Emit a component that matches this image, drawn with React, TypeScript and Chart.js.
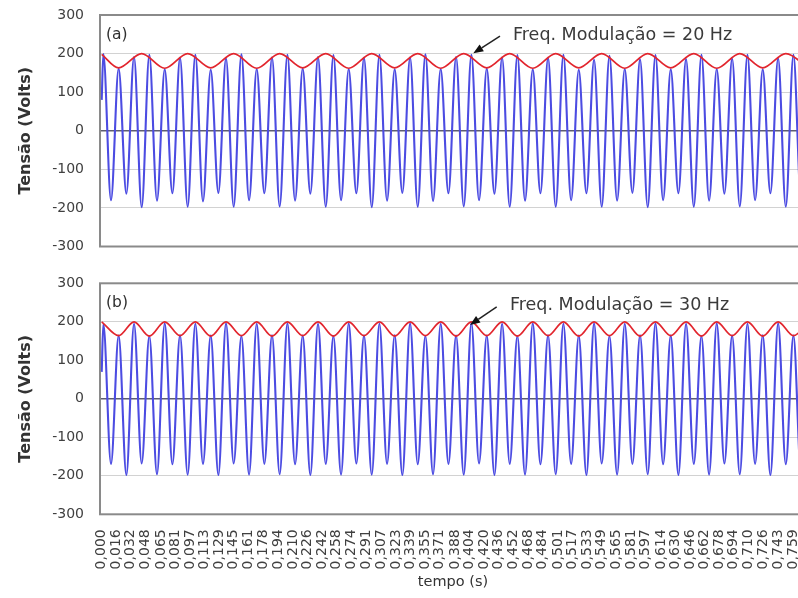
import { useEffect, useRef } from "react";
import { Chart, registerables } from "chart.js";

Chart.register(...registerables);

// ---------- DATA ----------
const rotulosTempo = [
  "0,000", "0,016", "0,032", "0,048", "0,065", "0,081", "0,097", "0,113", "0,129", "0,145",
  "0,161", "0,178", "0,194", "0,210", "0,226", "0,242", "0,258", "0,274", "0,291", "0,307",
  "0,323", "0,339", "0,355", "0,371", "0,388", "0,404", "0,420", "0,436", "0,452", "0,468",
  "0,484", "0,501", "0,517", "0,533", "0,549", "0,565", "0,581", "0,597", "0,614", "0,630",
  "0,646", "0,662", "0,678", "0,694", "0,710", "0,726", "0,743", "0,759",
];

const valoresY = [-300, -200, -100, 0, 100, 200, 300];

// instants of each crest / trough of the blue waveform (s)
const tempoExtremos = [
  0.0018, 0.0102, 0.0186, 0.0271, 0.0355, 0.0439, 0.0523, 0.0607, 0.0692, 0.0776,
  0.0860, 0.0944, 0.1028, 0.1112, 0.1197, 0.1281, 0.1365, 0.1449, 0.1534, 0.1618,
  0.1702, 0.1786, 0.1870, 0.1954, 0.2039, 0.2123, 0.2207, 0.2291, 0.2375, 0.2460,
  0.2544, 0.2628, 0.2712, 0.2796, 0.2880, 0.2965, 0.3049, 0.3133, 0.3217, 0.3301,
  0.3386, 0.3470, 0.3554, 0.3638, 0.3722, 0.3807, 0.3891, 0.3975, 0.4059, 0.4143,
  0.4228, 0.4312, 0.4396, 0.4480, 0.4564, 0.4648, 0.4733, 0.4817, 0.4901, 0.4985,
  0.5069, 0.5154, 0.5238, 0.5322, 0.5406, 0.5490, 0.5575, 0.5659, 0.5743, 0.5827,
  0.5911, 0.5995, 0.6080, 0.6164, 0.6248, 0.6332, 0.6416, 0.6501, 0.6585, 0.6669,
  0.6753, 0.6837, 0.6922, 0.7006, 0.7090, 0.7174, 0.7258, 0.7342, 0.7427, 0.7511,
  0.7595, 0.7679, 0.7763,
];

const inicioTensaoA = 80;
const tensaoA = [
  199, -180, 161, -163, 191, -198, 197, -181, 159, -162,
  189, -197, 197, -183, 158, -161, 188, -197, 198, -180,
  160, -162, 190, -196, 197, -181, 161, -163, 191, -197,
  196, -180, 160, -162, 189, -198, 197, -181, 159, -161,
  190, -197, 198, -182, 160, -162, 191, -196, 197, -180,
  161, -163, 190, -197, 196, -181, 159, -162, 189, -197,
  197, -180, 158, -162, 184, -197, 194, -181, 160, -161,
  185, -198, 196, -180, 159, -162, 186, -197, 197, -181,
  160, -163, 187, -196, 197, -180, 159, -162, 188, -197,
  197, -181, 160,
];

const inicioTensaoB = 70;
const tensaoB = [
  194, -169, 164, -198, 195, -168, 163, -196, 196, -170,
  165, -197, 195, -169, 164, -198, 196, -168, 163, -197,
  195, -169, 165, -196, 196, -170, 164, -198, 195, -169,
  163, -197, 196, -168, 164, -197, 195, -169, 165, -198,
  196, -170, 163, -196, 195, -169, 164, -197, 197, -168,
  164, -198, 195, -169, 163, -197, 196, -170, 165, -196,
  195, -169, 164, -198, 196, -168, 163, -197, 195, -169,
  165, -196, 196, -170, 164, -198, 195, -169, 163, -197,
  196, -168, 164, -196, 195, -169, 165, -198, 196, -170,
  164, -197, 195,
];

// red modulation envelope, panel (a) 20 Hz
const tempoEnvelopeA = [
  0.0, 0.0186, 0.0439, 0.0692, 0.0944, 0.1197, 0.1449, 0.1702, 0.1954, 0.2207,
  0.2460, 0.2712, 0.2965, 0.3217, 0.3470, 0.3722, 0.3975, 0.4228, 0.4480, 0.4733,
  0.4985, 0.5238, 0.5490, 0.5743, 0.5995, 0.6248, 0.6501, 0.6753, 0.7006, 0.7258,
  0.7511, 0.7763,
];
const envelopeA = [
  198, 163, 200, 162, 200, 163, 200, 162, 200, 163,
  200, 162, 200, 163, 200, 162, 200, 163, 200, 162,
  200, 163, 200, 162, 200, 163, 200, 162, 200, 163,
  200, 162,
];

// red modulation envelope, panel (b) 30 Hz
const tempoEnvelopeB = [
  0.0, 0.0186, 0.0355, 0.0523, 0.0692, 0.0860, 0.1028, 0.1197, 0.1365, 0.1534,
  0.1702, 0.1870, 0.2039, 0.2207, 0.2375, 0.2544, 0.2712, 0.2880, 0.3049, 0.3217,
  0.3386, 0.3554, 0.3722, 0.3891, 0.4059, 0.4228, 0.4396, 0.4564, 0.4733, 0.4901,
  0.5069, 0.5238, 0.5406, 0.5575, 0.5743, 0.5911, 0.6080, 0.6248, 0.6416, 0.6585,
  0.6753, 0.6922, 0.7090, 0.7258, 0.7427, 0.7595, 0.7763,
];
const envelopeB = [
  200, 164, 200, 163, 200, 164, 200, 163, 200, 164,
  200, 163, 200, 164, 200, 163, 200, 164, 200, 163,
  200, 164, 200, 163, 200, 164, 200, 163, 200, 164,
  200, 163, 200, 164, 200, 163, 200, 164, 200, 163,
  200, 164, 200, 163, 200, 164, 200,
];

const rotuloPainelA = "(a)";
const rotuloPainelB = "(b)";
const textoModA = "Freq. Modulação = 20 Hz";
const textoModB = "Freq. Modulação = 30 Hz";

// ---------- STYLE / LAYOUT ----------
const FONTE = "'DejaVu Sans', Verdana, sans-serif";
const X_MIN = -0.00187;
const X_MAX = 0.7733;
const CANVAS_W = 806;

type Anot = {
  painel: string;
  texto: string;
  textoX: number;
  textoY: number;
  setaDe: [number, number];
  setaPara: [number, number];
};

function pontos(ts: number[], vs: number[], t0?: number, v0?: number) {
  const arr: { x: number; y: number }[] = [];
  if (t0 !== undefined && v0 !== undefined) arr.push({ x: t0, y: v0 });
  ts.forEach((t, i) => arr.push({ x: t, y: vs[i] }));
  return arr;
}

function pluginAnot(a: Anot) {
  return {
    id: "anotacoes",
    afterDatasetsDraw(chart: any) {
      const { ctx, chartArea } = chart;
      const sx = chart.scales.x;
      const sy = chart.scales.y;
      ctx.save();
      // frame
      ctx.strokeStyle = "#8a8a8a";
      ctx.lineWidth = 2;
      ctx.strokeRect(chartArea.left, chartArea.top, chartArea.right - chartArea.left, chartArea.bottom - chartArea.top);
      // panel label
      ctx.fillStyle = "#303030";
      ctx.font = `15.5px ${FONTE}`;
      ctx.textBaseline = "middle";
      ctx.textAlign = "left";
      ctx.fillText(a.painel, chartArea.left + 6, chartArea.top + 19.5);
      // modulation text
      ctx.font = `17.5px ${FONTE}`;
      ctx.fillStyle = "#3a3a3a";
      ctx.fillText(a.texto, sx.getPixelForValue(a.textoX), sy.getPixelForValue(a.textoY));
      // arrow
      const x1 = sx.getPixelForValue(a.setaDe[0]);
      const y1 = sy.getPixelForValue(a.setaDe[1]);
      const x2 = sx.getPixelForValue(a.setaPara[0]);
      const y2 = sy.getPixelForValue(a.setaPara[1]);
      const ang = Math.atan2(y2 - y1, x2 - x1);
      const L = 10;
      const W = 4;
      const bx = x2 - L * Math.cos(ang);
      const by = y2 - L * Math.sin(ang);
      ctx.strokeStyle = "#222";
      ctx.lineWidth = 1.5;
      ctx.beginPath();
      ctx.moveTo(x1, y1);
      ctx.lineTo(bx, by);
      ctx.stroke();
      ctx.fillStyle = "#111";
      ctx.beginPath();
      ctx.moveTo(x2, y2);
      ctx.lineTo(bx + W * Math.sin(ang), by - W * Math.cos(ang));
      ctx.lineTo(bx - W * Math.sin(ang), by + W * Math.cos(ang));
      ctx.closePath();
      ctx.fill();
      ctx.restore();
    },
  };
}

function criarConfig(
  azul: { x: number; y: number }[],
  vermelho: { x: number; y: number }[],
  anot: Anot,
  mostrarX: boolean,
  padTop: number,
  padBottom: number,
  alturaEixoX: number
): any {
  return {
    type: "line",
    data: {
      datasets: [
        {
          data: vermelho,
          borderColor: "rgb(226, 38, 46)",
          borderWidth: 1.7,
          pointRadius: 0,
          cubicInterpolationMode: "monotone",
          fill: false,
        },
        {
          data: azul,
          borderColor: "rgb(76, 76, 226)",
          borderWidth: 2.1,
          pointRadius: 0,
          cubicInterpolationMode: "monotone",
          fill: false,
        },
      ],
    },
    options: {
      responsive: false,
      animation: false,
      events: [],
      layout: { padding: { top: padTop, bottom: padBottom, left: 0, right: 0 } },
      plugins: { legend: { display: false }, tooltip: { enabled: false } },
      scales: {
        x: {
          type: "linear",
          min: X_MIN,
          max: X_MAX,
          display: mostrarX,
          afterBuildTicks: (s: any) => {
            s.ticks = rotulosTempo.map((r) => ({ value: parseFloat(r.replace(",", ".")) }));
          },
          afterFit: (s: any) => {
            s.height = alturaEixoX;
            s.paddingLeft = 0;
            s.paddingRight = 0;
          },
          ticks: {
            autoSkip: false,
            minRotation: 90,
            maxRotation: 90,
            padding: 15,
            color: "#404040",
            font: { family: FONTE, size: 14 },
            callback: (_v: any, i: number) => rotulosTempo[i],
          },
          grid: { display: false, drawTicks: false },
          border: { display: false },
          title: {
            display: true,
            text: "tempo (s)",
            color: "#333",
            font: { family: FONTE, size: 14.5 },
            padding: { top: 0, bottom: 6.6 },
          },
        },
        y: {
          min: -300,
          max: 300,
          afterBuildTicks: (s: any) => {
            s.ticks = valoresY.map((v) => ({ value: v }));
          },
          afterFit: (s: any) => {
            s.width = 100;
            s.paddingTop = 0;
            s.paddingBottom = 0;
          },
          ticks: { color: "#404040", font: { family: FONTE, size: 14 }, padding: 16 },
          grid: {
            drawTicks: false,
            color: (c: any) => (c.tick && c.tick.value === 0 ? "#5e5e70" : "#d2d2d2"),
            lineWidth: (c: any) => (c.tick && c.tick.value === 0 ? 1.6 : 1),
          },
          border: { display: false },
          title: {
            display: true,
            text: "Tensão (Volts)",
            color: "#333",
            font: { family: FONTE, size: 16, weight: "bold" },
            padding: { top: 16, bottom: 0 },
          },
        },
      },
    },
    plugins: [pluginAnot(anot)],
  };
}

export default function App() {
  const refA = useRef<HTMLCanvasElement | null>(null);
  const refB = useRef<HTMLCanvasElement | null>(null);

  useEffect(() => {
    const chartA = new Chart(
      refA.current as HTMLCanvasElement,
      criarConfig(
        pontos(tempoExtremos, tensaoA, 0, inicioTensaoA),
        pontos(tempoEnvelopeA, envelopeA),
        {
          painel: rotuloPainelA,
          texto: textoModA,
          textoX: 0.4516,
          textoY: 248,
          setaDe: [0.4373, 245],
          setaPara: [0.408, 201],
        },
        false,
        15,
        13.5,
        0
      )
    );
    const chartB = new Chart(
      refB.current as HTMLCanvasElement,
      criarConfig(
        pontos(tempoExtremos, tensaoB, 0, inicioTensaoB),
        pontos(tempoEnvelopeB, envelopeB),
        {
          painel: rotuloPainelB,
          texto: textoModB,
          textoX: 0.4483,
          textoY: 243,
          setaDe: [0.4337, 239],
          setaPara: [0.4044, 192],
        },
        true,
        18.3,
        0,
        83.7
      )
    );
    return () => {
      chartA.destroy();
      chartB.destroy();
    };
  }, []);

  return (
    <div
      style={{
        position: "absolute",
        left: 0,
        top: 0,
        width: 798,
        height: 598,
        overflow: "hidden",
        background: "#fff",
      }}
    >
      <canvas
        ref={refA}
        width={CANVAS_W}
        height={260}
        style={{ position: "absolute", left: 0, top: 0, width: CANVAS_W, height: 260 }}
      />
      <canvas
        ref={refB}
        width={CANVAS_W}
        height={333}
        style={{ position: "absolute", left: 0, top: 265, width: CANVAS_W, height: 333 }}
      />
    </div>
  );
}
